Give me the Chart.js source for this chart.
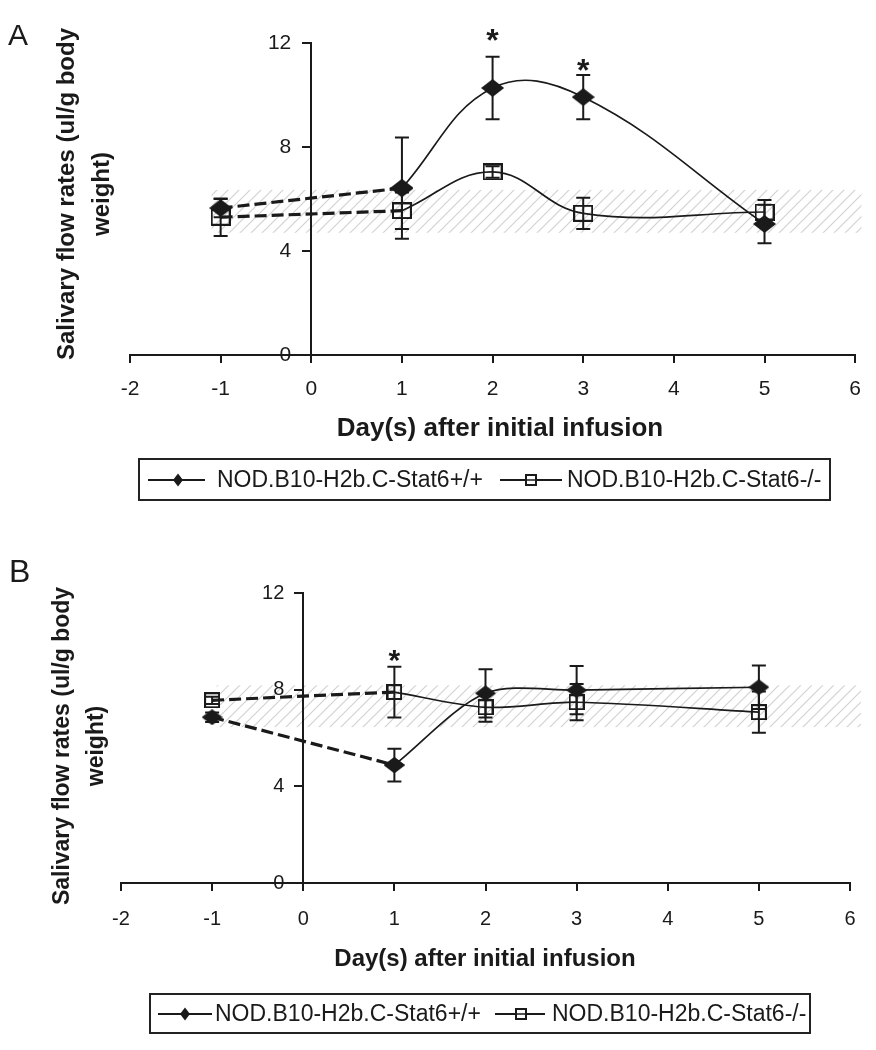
<!DOCTYPE html>
<html><head><meta charset="utf-8">
<script src="https://cdn.jsdelivr.net/npm/chart.js@4.4.1/dist/chart.umd.min.js"></script>
<style>
html,body{margin:0;padding:0;background:#fff;width:876px;height:1050px;overflow:hidden;font-family:"Liberation Sans",Arial,sans-serif;}
#wrap{position:relative;width:876px;height:1050px;background:#fff;}
canvas{position:absolute;left:0;}
.legend{position:absolute;border:2px solid #222;box-sizing:border-box;color:#1a1a1a;white-space:nowrap;}
.legend .t{position:absolute;line-height:1;}
.legend svg{position:absolute;}
</style></head><body>
<div id="wrap">
<canvas id="cA" width="876" height="540" style="top:0;width:876px;height:540px"></canvas>
<canvas id="cB" width="876" height="510" style="top:540px;width:876px;height:510px"></canvas>
<div class="legend" id="legA"></div>
<div class="legend" id="legB"></div>
</div>
<script>
// ---------------- data ----------------
const daysA = [-1, 1, 2, 3, 5];
const wtA = [5.65, 6.42, 10.27, 9.92, 5.04];
const wtErrA = [0.35, 1.95, 1.2, 0.85, 0.74];
const koA = [5.3, 5.55, 7.04, 5.45, 5.5];
const koErrA = [0.72, 0.7, 0.22, 0.6, 0.46];
const bandA = [4.7, 6.35];
const bandXA = [-1.1, 6.07];
const sigA = [[2, 12.42], [3, 11.27]];

const daysB = [-1, 1, 2, 3, 5];
const wtB = [6.86, 4.88, 7.85, 7.98, 8.1];
const wtErrB = [0.2, 0.68, 1.0, 1.0, 0.9];
const koB = [7.56, 7.9, 7.27, 7.48, 7.07];
const koErrB = [0.15, 1.05, 0.6, 0.75, 0.85];
const bandB = [6.45, 8.18];
const bandXB = [-0.95, 6.12];
const sigB = [[1, 9.52]];

const xTicks = [-2, -1, 0, 1, 2, 3, 4, 5, 6];
const yTicks = [0, 4, 8, 12];
const seriesNames = ['NOD.B10-H2b.C-Stat6+/+', 'NOD.B10-H2b.C-Stat6-/-'];
const xTitle = 'Day(s) after initial infusion';
const yTitleLines = ['Salivary flow rates (ul/g body', 'weight)'];
const panelLabels = ['A', 'B'];

// ---------------- styles ----------------
const INK = '#1a1a1a';
const FONT = '"Liberation Sans", Arial, sans-serif';

function makeDiamond(w, h) {
  const c = document.createElement('canvas'); c.width = w; c.height = h;
  const g = c.getContext('2d');
  g.fillStyle = INK; g.beginPath();
  g.moveTo(w / 2, 0); g.lineTo(w, h / 2); g.lineTo(w / 2, h); g.lineTo(0, h / 2); g.closePath(); g.fill();
  return c;
}
function makeSquare(w, h) {
  const c = document.createElement('canvas'); c.width = w; c.height = h;
  const g = c.getContext('2d');
  g.strokeStyle = INK; g.lineWidth = 2; g.strokeRect(1, 1, w - 2, h - 2);
  return c;
}
function makeHatch() {
  const c = document.createElement('canvas'); c.width = 11; c.height = 11;
  const g = c.getContext('2d');
  g.strokeStyle = '#d2d2d2'; g.lineWidth = 1.2;
  g.beginPath();
  g.moveTo(0, 11); g.lineTo(11, 0);
  g.moveTo(-2, 2); g.lineTo(2, -2);
  g.moveTo(9, 13); g.lineTo(13, 9);
  g.stroke();
  return c;
}
const hatch = makeHatch();

// shift y tick labels left of the axis line (axis placed at x = 0)
function shiftYLabels(dx) {
  return function (s) {
    if (s._shiftPatched) return;
    s._shiftPatched = true;
    const orig = s._computeLabelItems;
    s._computeLabelItems = function (ca) {
      const items = orig.call(this, ca);
      items.forEach(it => { it.options.translation[0] -= dx; });
      return items;
    };
  };
}

const decor = {
  id: 'decor',
  beforeDraw(chart, args, o) {
    const {ctx, scales: {x, y}} = chart;
    ctx.save();
    const x0 = x.getPixelForValue(o.bandX[0]), x1 = x.getPixelForValue(o.bandX[1]);
    const y0 = y.getPixelForValue(o.band[1]), y1 = y.getPixelForValue(o.band[0]);
    ctx.fillStyle = ctx.createPattern(hatch, 'repeat');
    ctx.fillRect(x0, y0, x1 - x0, y1 - y0);
    ctx.restore();
  },
  beforeDatasetsDraw(chart, args, o) {
    const {ctx, scales: {x, y}} = chart;
    ctx.save();
    ctx.strokeStyle = INK; ctx.lineWidth = 2;
    o.errors.forEach(s => {
      s.days.forEach((d, i) => {
        const px = x.getPixelForValue(d);
        const pt = y.getPixelForValue(s.vals[i] + s.errs[i]);
        const pb = y.getPixelForValue(s.vals[i] - s.errs[i]);
        ctx.beginPath();
        ctx.moveTo(px, pt); ctx.lineTo(px, pb);
        ctx.moveTo(px - o.cap, pt); ctx.lineTo(px + o.cap, pt);
        ctx.moveTo(px - o.cap, pb); ctx.lineTo(px + o.cap, pb);
        ctx.stroke();
      });
    });
    ctx.restore();
  },
  afterDraw(chart, args, o) {
    const {ctx, scales: {x, y}} = chart;
    ctx.save();
    ctx.fillStyle = INK;
    ctx.font = 'bold ' + o.starSize + 'px ' + FONT;
    ctx.textAlign = 'center'; ctx.textBaseline = 'alphabetic';
    o.stars.forEach(([d, v]) => {
      ctx.fillText('*', x.getPixelForValue(d), y.getPixelForValue(v) + 0.58 * o.starSize);
    });
    ctx.font = 'bold ' + o.xTitleSize + 'px ' + FONT;
    ctx.fillText(xTitle, o.xTitlePos[0], o.xTitlePos[1]);
    ctx.font = 'bold ' + o.yTitleSize + 'px ' + FONT;
    o.yTitleX.forEach((bx, i) => {
      ctx.save();
      ctx.translate(bx, o.yTitleY);
      ctx.rotate(-Math.PI / 2);
      ctx.fillText(yTitleLines[i], 0, 0);
      ctx.restore();
    });
    ctx.font = o.letterSize + 'px ' + FONT;
    ctx.textAlign = 'left';
    ctx.fillText(o.letter, o.letterPos[0], o.letterPos[1]);
    ctx.restore();
  }
};

function pts(days, vals, from, to) {
  const out = [];
  for (let i = from; i < to; i++) out.push({x: days[i], y: vals[i]});
  return out;
}

function makeChart(id, days, wt, ko, wtErr, koErr, p) {
  const dia = makeDiamond(p.dia[0], p.dia[1]);
  const sq = makeSquare(p.sq[0], p.sq[1]);
  const n = days.length;
  const common = {borderColor: INK, backgroundColor: INK, pointRadius: 10, pointHoverRadius: 10, fill: false};
  return new Chart(document.getElementById(id), {
    type: 'line',
    data: {
      datasets: [
        Object.assign({}, common, {label: seriesNames[0], data: pts(days, wt, 0, 2), borderDash: [12, 5], borderWidth: 3.2, tension: 0, pointStyle: dia}),
        Object.assign({}, common, {label: seriesNames[0], data: pts(days, wt, 1, n), borderWidth: 1.7, tension: p.tension, pointStyle: dia}),
        Object.assign({}, common, {label: seriesNames[1], data: pts(days, ko, 0, 2), borderDash: [12, 5], borderWidth: 3.2, tension: 0, pointStyle: sq}),
        Object.assign({}, common, {label: seriesNames[1], data: pts(days, ko, 1, n), borderWidth: 1.7, tension: p.tension, pointStyle: sq})
      ]
    },
    options: {
      responsive: false,
      animation: false,
      events: [],
      layout: {padding: p.padding},
      plugins: {
        legend: {display: false},
        tooltip: {enabled: false},
        decor: {
          band: p.band, bandX: p.bandX, cap: 7,
          errors: [{days, vals: wt, errs: wtErr}, {days, vals: ko, errs: koErr}],
          stars: p.stars, starSize: p.starSize,
          xTitleSize: p.xTitleSize, xTitlePos: p.xTitlePos,
          yTitleSize: p.yTitleSize, yTitleX: p.yTitleX, yTitleY: p.yTitleY,
          letter: p.letter, letterSize: p.letterSize, letterPos: p.letterPos
        }
      },
      scales: {
        x: {
          type: 'linear', min: xTicks[0], max: xTicks[xTicks.length - 1],
          position: {y: 0},
          afterBuildTicks: s => { s.ticks = xTicks.map(v => ({value: v})); },
          grid: {display: true, drawOnChartArea: false, drawTicks: true, tickLength: 7, color: INK, lineWidth: 2},
          border: {display: true, color: INK, width: 2},
          ticks: {color: INK, font: {family: FONT, size: p.tickSize}, padding: p.xTickPad, maxRotation: 0, autoSkip: false}
        },
        y: {
          type: 'linear', min: yTicks[0], max: yTicks[yTicks.length - 1],
          position: {x: 0},
          afterBuildTicks: s => { s.ticks = yTicks.map(v => ({value: v})); },
          afterUpdate: shiftYLabels(p.yLabelGap),
          grid: {display: true, drawOnChartArea: false, drawTicks: true, tickLength: 8, color: INK, lineWidth: 2},
          border: {display: true, color: INK, width: 2},
          ticks: {color: INK, font: {family: FONT, size: p.tickSize}, padding: 10}
        }
      }
    },
    plugins: [decor]
  });
}

makeChart('cA', daysA, wtA, koA, wtErrA, koErrA, {
  padding: {left: 130, right: 19, top: 43, bottom: 185},
  band: bandA, bandX: bandXA, stars: sigA, starSize: 32, tension: 0.4,
  dia: [23, 18], sq: [20, 17],
  tickSize: 21, xTickPad: 15, yLabelGap: 20,
  xTitleSize: 26, xTitlePos: [500, 436],
  yTitleSize: 24, yTitleX: [74, 109], yTitleY: 194,
  letter: panelLabels[0], letterSize: 30, letterPos: [8, 45]
});
makeChart('cB', daysB, wtB, koB, wtErrB, koErrB, {
  padding: {left: 121, right: 26, top: 53, bottom: 167},
  band: bandB, bandX: bandXB, stars: sigB, starSize: 30, tension: 0.3,
  dia: [21, 16], sq: [16, 16],
  tickSize: 20, xTickPad: 17, yLabelGap: 19,
  xTitleSize: 24, xTitlePos: [485, 966 - 540],
  yTitleSize: 23, yTitleX: [69, 103], yTitleY: 746 - 540,
  letter: panelLabels[1], letterSize: 32, letterPos: [9, 582 - 540]
});

// ---------------- legends ----------------
function buildLegend(el, cfg) {
  el.style.left = cfg.box[0] + 'px'; el.style.top = cfg.box[1] + 'px';
  el.style.width = (cfg.box[2] - cfg.box[0]) + 'px'; el.style.height = (cfg.box[3] - cfg.box[1]) + 'px';
  const ox = cfg.box[0] + 2;
  const cy = (cfg.box[3] - cfg.box[1]) / 2 - 2;
  let html = '';
  cfg.items.forEach((it, i) => {
    const w = it.line[1] - it.line[0];
    const mx = it.mark - it.line[0];
    let mk;
    if (i === 0) mk = `<polygon points="${mx},${10 - 6.5} ${mx + 5},10 ${mx},${10 + 6.5} ${mx - 5},10" fill="${INK}"/>`;
    else mk = `<rect x="${mx - 5}" y="5" width="10" height="10" fill="#fff" stroke="${INK}" stroke-width="2"/><line x1="${mx - 5}" y1="10" x2="${mx + 5}" y2="10" stroke="${INK}" stroke-width="1.5"/>`;
    html += `<svg width="${w}" height="20" style="left:${it.line[0] - ox}px;top:${cy - 10}px"><line x1="0" y1="10" x2="${w}" y2="10" stroke="${INK}" stroke-width="2.2"/>${mk}</svg>`;
    html += `<span class="t" style="left:${it.text - ox}px;top:${cy - cfg.font * 0.5}px;font-size:${cfg.font}px">${seriesNames[i]}</span>`;
  });
  el.innerHTML = html;
}
buildLegend(document.getElementById('legA'), {
  box: [138, 458, 831, 501], font: 23,
  items: [{line: [148, 205], mark: 178, text: 217}, {line: [500, 562], mark: 531, text: 567}]
});
buildLegend(document.getElementById('legB'), {
  box: [149, 993, 811, 1034], font: 23,
  items: [{line: [158, 212], mark: 185, text: 215}, {line: [495, 545], mark: 521, text: 552}]
});
</script>
</body></html>
